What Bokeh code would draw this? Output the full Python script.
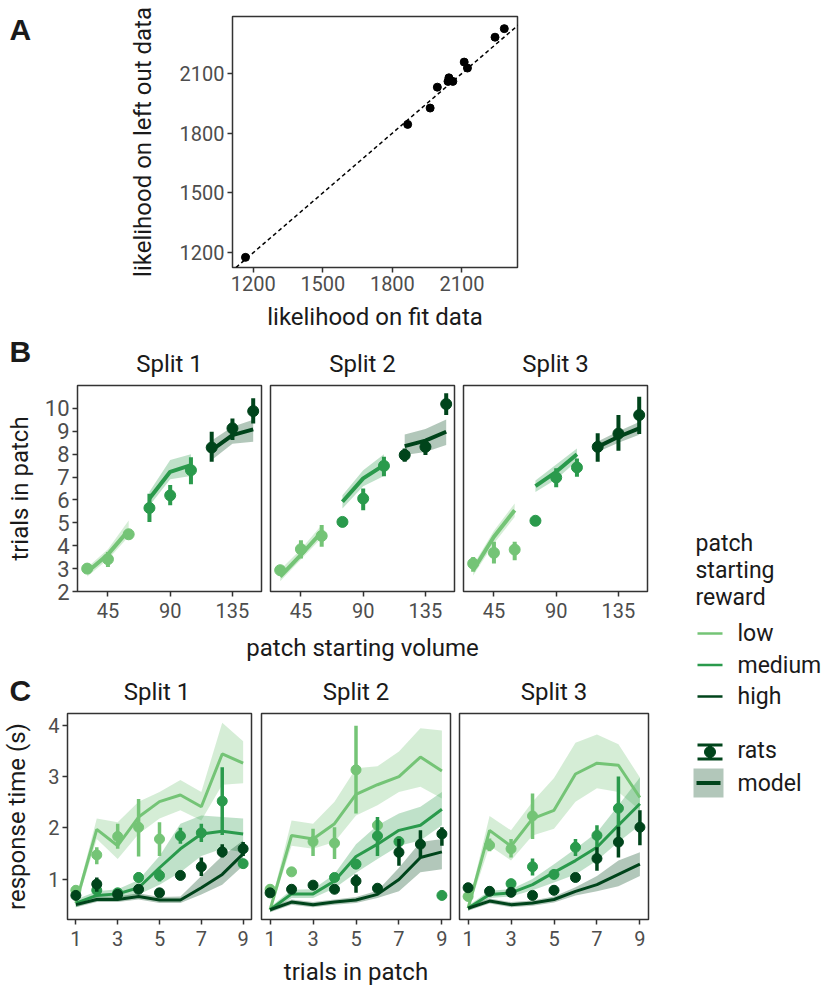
import numpy as np
from bokeh.plotting import figure
from bokeh.layouts import row, column
from bokeh.models import Range1d, FixedTicker, Slope, ColumnDataSource
from bokeh.embed import file_html
from bokeh.resources import INLINE
from bokeh.core.properties import value

FONT = "Roboto"
LETTER_FONT = "Liberation Sans"
TICK_COL = "#4d4d4d"
TEXT_COL = "#1a1a1a"
FRAME_COL = "#333333"

# ---------------- Panel A data ----------------
fit_likelihood = [1166, 1866, 1963, 1994, 2040, 2044, 2061, 2110, 2124, 2243, 2283]
left_out_likelihood = [1176, 1844, 1926, 2031, 2060, 2078, 2060, 2157, 2127, 2282, 2325]
a_ticks = [1200, 1500, 1800, 2100]

# ---------------- shared ----------------
reward_levels = ["low", "medium", "high"]
reward_colors = ["#74c476", "#2a9a4c", "#00441b"]
split_names = ["Split 1", "Split 2", "Split 3"]

# ---------------- Panel B data (volumes: low 30-60, medium 75-105, high 120-150) ----------------
b_volume = [30, 45, 60, 75, 90, 105, 120, 135, 150]
b_xticks = [45, 90, 135]
b_yticks = [2, 3, 4, 5, 6, 7, 8, 9, 10]

b1_rats_mean = [3.00, 3.41, 4.50, 5.65, 6.20, 7.30, 8.29, 9.13, 9.88]
b1_rats_lo = [2.92, 3.07, 4.35, 5.04, 5.77, 6.69, 7.67, 8.62, 9.34]
b1_rats_hi = [3.08, 3.73, 4.62, 6.27, 6.65, 7.86, 8.98, 9.56, 10.44]
b1_model = [2.85, 3.62, 4.68, 6.06, 7.23, 7.52, 8.18, 8.83, 9.08]
b1_model_lo = [2.65, 3.40, 4.40, 5.75, 6.90, 7.05, 7.75, 8.45, 8.54]
b1_model_hi = [3.05, 3.85, 5.10, 6.36, 7.74, 8.00, 8.60, 9.20, 9.50]

b2_rats_mean = [2.93, 3.85, 4.43, 5.04, 6.06, 7.49, 7.96, 8.32, 10.19]
b2_rats_lo = [2.85, 3.44, 3.95, 4.82, 5.55, 7.04, 7.67, 7.96, 9.71]
b2_rats_hi = [3.00, 4.24, 4.90, 5.26, 6.50, 7.89, 8.25, 8.60, 10.66]
b2_model = [2.65, 3.60, 4.60, 5.92, 6.94, 7.52, 8.35, 8.59, 8.98]
b2_model_lo = [2.45, 3.40, 4.35, 5.63, 6.60, 7.05, 7.96, 8.10, 8.40]
b2_model_hi = [2.95, 3.85, 4.90, 6.20, 7.30, 8.00, 8.86, 9.10, 9.52]

b3_rats_mean = [3.22, 3.69, 3.83, 5.09, 6.98, 7.42, 8.32, 8.90, 9.71]
b3_rats_lo = [2.86, 3.22, 3.37, 4.90, 6.55, 7.01, 7.67, 8.15, 8.88]
b3_rats_hi = [3.51, 4.17, 4.17, 5.28, 7.38, 7.81, 8.91, 9.71, 10.51]
b3_model = [2.93, 4.39, 5.55, 6.60, 7.23, 8.00, 8.32, 8.76, 9.13]
b3_model_lo = [2.70, 4.10, 5.25, 6.35, 6.90, 7.70, 8.10, 8.50, 8.85]
b3_model_hi = [3.15, 4.65, 5.85, 6.85, 7.55, 8.25, 8.55, 9.00, 9.40]

# ---------------- Panel C data ----------------
c_trials = [1, 2, 3, 4, 5, 6, 7, 8, 9]
c_xticks = [1, 3, 5, 7, 9]
c_yticks = [1, 2, 3, 4]

# split 1 model
c1_low_model = [0.53, 1.97, 1.65, 2.21, 2.51, 2.64, 2.41, 3.44, 3.26]
c1_low_model_lo = [0.45, 1.78, 1.39, 1.88, 2.18, 2.34, 2.14, 2.84, 2.87]
c1_low_model_hi = [0.60, 2.18, 2.11, 2.51, 2.70, 2.93, 2.70, 4.05, 3.69]
c1_med_model = [0.53, 0.68, 0.71, 0.83, 1.22, 1.59, 1.88, 1.93, 1.88]
c1_med_model_lo = [0.45, 0.60, 0.62, 0.70, 0.89, 1.13, 1.45, 1.59, 1.52]
c1_med_model_hi = [0.60, 0.76, 0.80, 0.98, 1.45, 2.08, 2.24, 2.21, 2.18]
c1_high_model = [0.50, 0.60, 0.60, 0.66, 0.59, 0.59, 0.83, 1.09, 1.49]
c1_high_model_lo = [0.45, 0.55, 0.55, 0.60, 0.53, 0.53, 0.70, 0.89, 1.26]
c1_high_model_hi = [0.55, 0.66, 0.66, 0.72, 0.65, 0.66, 1.06, 1.45, 1.75]
# split 1 rats
c1_low_mean = [0.78, 1.47, 1.83, 2.01, 1.78, None, None, None, None]
c1_low_lo = [0.72, 1.29, 1.59, 1.44, 1.45, None, None, None, None]
c1_low_hi = [0.84, 1.62, 2.08, 2.56, 2.11, None, None, None, None]
c1_med_mean = [None, 0.78, 0.73, 1.03, 1.07, 1.84, 1.90, 2.52, 1.30]
c1_med_lo = [None, 0.72, 0.68, 0.93, 0.95, 1.69, 1.72, 1.86, 1.24]
c1_med_hi = [None, 0.84, 0.78, 1.13, 1.19, 2.00, 2.08, 3.18, 1.36]
c1_high_mean = [0.68, 0.90, 0.70, 0.80, 0.73, 1.07, 1.24, 1.53, 1.59]
c1_high_lo = [0.62, 0.75, 0.64, 0.72, 0.66, 0.98, 1.06, 1.42, 1.45]
c1_high_hi = [0.74, 1.03, 0.76, 0.88, 0.80, 1.16, 1.42, 1.68, 1.72]

# split 2 model
c2_low_model = [0.40, 1.85, 1.78, 2.08, 2.65, 2.84, 3.00, 3.38, 3.11]
c2_low_model_lo = [0.35, 1.65, 1.59, 1.72, 2.24, 2.44, 2.70, 2.80, 2.57]
c2_low_model_hi = [0.45, 2.14, 2.08, 2.51, 3.16, 3.20, 3.49, 3.94, 3.90]
c2_med_model = [0.40, 0.71, 0.71, 0.96, 1.44, 1.68, 1.95, 2.05, 2.36]
c2_med_model_lo = [0.35, 0.63, 0.63, 0.82, 1.12, 1.39, 1.65, 1.75, 2.05]
c2_med_model_hi = [0.45, 0.79, 0.80, 1.10, 1.68, 2.05, 2.28, 2.41, 2.70]
c2_high_model = [0.40, 0.55, 0.50, 0.55, 0.59, 0.70, 0.99, 1.42, 1.53]
c2_high_model_lo = [0.35, 0.50, 0.45, 0.50, 0.53, 0.63, 0.76, 1.13, 1.19]
c2_high_model_hi = [0.45, 0.60, 0.55, 0.60, 0.65, 0.77, 1.22, 1.72, 1.78]
# split 2 rats
c2_low_mean = [0.80, 1.14, 1.73, 1.70, 3.13, 2.05, None, None, None]
c2_low_lo = [0.74, 1.08, 1.45, 1.39, 2.28, 1.95, None, None, None]
c2_low_hi = [0.86, 1.20, 1.98, 2.01, 3.99, 2.15, None, None, None]
c2_med_mean = [None, None, None, 1.03, 1.29, 1.84, 1.73, None, 0.68]
c2_med_lo = [None, None, None, 0.96, 1.20, 1.45, 1.65, None, 0.62]
c2_med_hi = [None, None, None, 1.10, 1.38, 2.21, 1.80, None, 0.74]
c2_high_mean = [0.73, 0.80, 0.88, 0.80, 0.96, 0.82, 1.52, 1.68, 1.88]
c2_high_lo = [0.66, 0.74, 0.82, 0.72, 0.73, 0.76, 1.26, 1.42, 1.65]
c2_high_hi = [0.80, 0.86, 0.94, 0.88, 1.09, 0.88, 1.78, 1.95, 2.01]

# split 3 model
c3_low_model = [0.43, 1.95, 1.64, 2.18, 2.34, 3.05, 3.26, 3.22, 2.59]
c3_low_model_lo = [0.38, 1.65, 1.36, 1.85, 1.98, 2.51, 2.77, 2.70, 2.34]
c3_low_model_hi = [0.48, 2.23, 1.95, 2.51, 2.97, 3.66, 3.82, 3.63, 2.98]
c3_med_model = [0.43, 0.70, 0.73, 0.89, 1.13, 1.36, 1.62, 2.05, 2.47]
c3_med_model_lo = [0.38, 0.63, 0.66, 0.78, 0.93, 1.09, 1.36, 1.72, 2.05]
c3_med_model_hi = [0.48, 0.77, 0.80, 1.00, 1.29, 1.59, 1.91, 2.44, 2.98]
c3_high_model = [0.43, 0.57, 0.50, 0.53, 0.60, 0.76, 0.89, 1.09, 1.29]
c3_high_model_lo = [0.38, 0.52, 0.45, 0.48, 0.54, 0.68, 0.76, 0.86, 1.06]
c3_high_model_hi = [0.48, 0.62, 0.55, 0.58, 0.66, 0.84, 1.06, 1.36, 1.52]
# split 3 rats
c3_low_mean = [0.66, 1.66, 1.59, 2.23, None, None, None, None, None]
c3_low_lo = [0.60, 1.54, 1.42, 1.78, None, None, None, None, None]
c3_low_hi = [0.72, 1.79, 1.78, 2.67, None, None, None, None, None]
c3_med_mean = [None, None, 0.91, 1.24, 1.09, 1.62, 1.85, 2.38, None]
c3_med_lo = [None, None, 0.84, 1.07, 1.02, 1.45, 1.62, 1.72, None]
c3_med_hi = [None, None, 0.98, 1.40, 1.16, 1.78, 2.05, 3.00, None]
c3_high_mean = [0.83, 0.76, 0.74, 0.68, 0.78, 1.03, 1.40, 1.72, 2.01]
c3_high_lo = [0.77, 0.70, 0.68, 0.62, 0.72, 0.96, 1.16, 1.42, 1.66]
c3_high_hi = [0.89, 0.82, 0.80, 0.74, 0.84, 1.10, 1.62, 2.02, 2.34]


def arr(v):
    return np.array([np.nan if a is None else a for a in v], dtype=float)


def style(p, xfs="20px", yfs="20px"):
    p.outline_line_color = FRAME_COL
    p.outline_line_width = 1.5
    p.xgrid.visible = False
    p.ygrid.visible = False
    p.background_fill_color = "white"
    p.border_fill_color = "white"
    for ax, fs in ((p.xaxis[0], xfs), (p.yaxis[0], yfs)):
        ax.axis_line_color = None
        ax.major_tick_line_color = FRAME_COL
        ax.major_tick_line_width = 1.5
        ax.major_tick_out = 5
        ax.major_tick_in = 0
        ax.minor_tick_line_color = None
        ax.major_label_text_font = FONT
        ax.major_label_text_color = TICK_COL
        ax.major_label_text_font_size = fs
        ax.major_label_standoff = 3
        ax.axis_label_text_font = FONT
        ax.axis_label_text_font_style = "normal"
        ax.axis_label_text_color = TEXT_COL
        ax.axis_label_text_font_size = "24px"


def strip(w, h, x0, y0):
    """A blank panel whose data coordinates equal page pixels, for free-standing texts."""
    s = figure(width=w, height=h, x_range=Range1d(x0, x0 + w), y_range=Range1d(y0 + h, y0),
               min_border_left=0, min_border_right=0, min_border_top=0, min_border_bottom=0,
               x_axis_location=None, y_axis_location=None, output_backend="svg", toolbar_location=None)
    s.grid.visible = False
    s.outline_line_color = None
    s.background_fill_color = "white"
    s.border_fill_color = "white"
    return s


def put_text(s, xs, ys, texts, size="24px", font=FONT, style_="normal", align="left", color=TEXT_COL):
    s.text(x=xs, y=ys, text=texts, text_font=value(font), text_font_size=value(size),
           text_font_style=style_, text_color=color, text_align=align, text_baseline="middle")


# ---------------- Panel A ----------------
strip_a = strip(68, 336, 0, 0)
put_text(strip_a, [9], [17], ["A"], size="30px", font=LETTER_FONT, style_="bold")

pa = figure(width=758, height=336, x_range=Range1d(1110, 2340), y_range=Range1d(1125, 2386),
            min_border_left=164, min_border_right=309, min_border_top=16, min_border_bottom=69,
            output_backend="svg", toolbar_location=None)
style(pa)
pa.xaxis.ticker = FixedTicker(ticks=a_ticks)
pa.yaxis.ticker = FixedTicker(ticks=a_ticks)
pa.xaxis.axis_label = "likelihood on fit data"
pa.yaxis.axis_label = "likelihood on left out data"
pa.xaxis.axis_label_standoff = 9
pa.yaxis.axis_label_standoff = 20
pa.add_layout(Slope(gradient=1, y_intercept=0, line_color="black", line_dash="4 3", line_width=1.5))
pa.scatter(fit_likelihood, left_out_likelihood, size=8, color="black")

# ---------------- Panel B ----------------
b_sets = [
    (b1_rats_mean, b1_rats_lo, b1_rats_hi, b1_model, b1_model_lo, b1_model_hi),
    (b2_rats_mean, b2_rats_lo, b2_rats_hi, b2_model, b2_model_lo, b2_model_hi),
    (b3_rats_mean, b3_rats_lo, b3_rats_hi, b3_model, b3_model_lo, b3_model_hi),
]
# (figure width, left border, right border); frames 184 wide
b_geom = [(265, 77, 4), (193, 5, 4), (193, 5, 4)]
B_FRAME = 184
b_figs = []
for i, (rm, rl, rh, mm, ml, mh) in enumerate(b_sets):
    w, left, right = b_geom[i]
    p = figure(width=w, height=248, x_range=Range1d(23, 156), y_range=Range1d(2, 11),
               min_border_left=left, min_border_right=right, min_border_top=5, min_border_bottom=37,
               output_backend="svg", toolbar_location=None)
    style(p, xfs="20px", yfs="22px")
    p.xaxis.major_label_standoff = 6
    p.xaxis.ticker = FixedTicker(ticks=b_xticks)
    p.yaxis.ticker = FixedTicker(ticks=b_yticks)
    if i == 0:
        p.yaxis.axis_label = "trials in patch"
        p.yaxis.axis_label_standoff = 8
    else:
        p.yaxis.visible = False
    for g in range(3):
        sl = slice(3 * g, 3 * g + 3)
        src = ColumnDataSource(dict(x=b_volume[sl], m=mm[sl], lo=ml[sl], hi=mh[sl]))
        p.varea(x="x", y1="lo", y2="hi", source=src, fill_color=reward_colors[g], fill_alpha=0.3)
    for g in range(3):
        sl = slice(3 * g, 3 * g + 3)
        p.line(b_volume[sl], mm[sl], line_color=reward_colors[g], line_width=4)
    for g in range(3):
        sl = slice(3 * g, 3 * g + 3)
        src = ColumnDataSource(dict(x=b_volume[sl], m=rm[sl], lo=rl[sl], hi=rh[sl]))
        p.segment(x0="x", y0="lo", x1="x", y1="hi", source=src, line_color=reward_colors[g], line_width=4)
        p.scatter(x="x", y="m", source=src, size=11, color=reward_colors[g])
    b_figs.append(p)

# frame centres of the B facets, in page pixels
b_centres = []
xpos = 0
for w, left, right in b_geom:
    b_centres.append(xpos + left + B_FRAME / 2)
    xpos += w

strip_b_top = strip(651, 44, 0, 336)
put_text(strip_b_top, [9], [351], ["B"], size="30px", font=LETTER_FONT, style_="bold")
put_text(strip_b_top, b_centres, [363] * 3, split_names, align="center")
strip_b_bot = strip(651, 42, 0, 628)
put_text(strip_b_bot, [b_centres[1]], [647], ["patch starting volume"], align="center")

# ---------------- Panel C ----------------
c_sets = [
    ([c1_low_model, c1_med_model, c1_high_model], [c1_low_model_lo, c1_med_model_lo, c1_high_model_lo],
     [c1_low_model_hi, c1_med_model_hi, c1_high_model_hi], [c1_low_mean, c1_med_mean, c1_high_mean],
     [c1_low_lo, c1_med_lo, c1_high_lo], [c1_low_hi, c1_med_hi, c1_high_hi]),
    ([c2_low_model, c2_med_model, c2_high_model], [c2_low_model_lo, c2_med_model_lo, c2_high_model_lo],
     [c2_low_model_hi, c2_med_model_hi, c2_high_model_hi], [c2_low_mean, c2_med_mean, c2_high_mean],
     [c2_low_lo, c2_med_lo, c2_high_lo], [c2_low_hi, c2_med_hi, c2_high_hi]),
    ([c3_low_model, c3_med_model, c3_high_model], [c3_low_model_lo, c3_med_model_lo, c3_high_model_lo],
     [c3_low_model_hi, c3_med_model_hi, c3_high_model_hi], [c3_low_mean, c3_med_mean, c3_high_mean],
     [c3_low_lo, c3_med_lo, c3_high_lo], [c3_low_hi, c3_med_hi, c3_high_hi]),
]
c_geom = [(255, 62, 4), (199, 6, 4), (197, 5, 3)]
C_FRAME = 189
c_figs = []
for i, (mods, mlos, mhis, rms, rlos, rhis) in enumerate(c_sets):
    w, left, right = c_geom[i]
    p = figure(width=w, height=247, x_range=Range1d(0.6, 9.4), y_range=Range1d(0.21, 4.23),
               min_border_left=left, min_border_right=right, min_border_top=6, min_border_bottom=35,
               output_backend="svg", toolbar_location=None)
    style(p)
    p.xaxis.major_label_standoff = 6
    p.xaxis.ticker = FixedTicker(ticks=c_xticks)
    p.yaxis.ticker = FixedTicker(ticks=c_yticks)
    if i == 0:
        p.yaxis.axis_label = "response time (s)"
        p.yaxis.axis_label_standoff = 14
    else:
        p.yaxis.visible = False
    for g in range(3):
        p.varea(x=c_trials, y1=mlos[g], y2=mhis[g], fill_color=reward_colors[g], fill_alpha=0.3)
    for g in range(3):
        p.line(c_trials, mods[g], line_color=reward_colors[g], line_width=3)
    for g in range(3):
        src = ColumnDataSource(dict(x=c_trials, m=arr(rms[g]), lo=arr(rlos[g]), hi=arr(rhis[g])))
        p.segment(x0="x", y0="lo", x1="x", y1="hi", source=src, line_color=reward_colors[g], line_width=3.5)
        p.scatter(x="x", y="m", source=src, size=10, color=reward_colors[g])
    c_figs.append(p)

c_centres = []
xpos = 0
for w, left, right in c_geom:
    c_centres.append(xpos + left + C_FRAME / 2)
    xpos += w

strip_c_top = strip(651, 37, 0, 670)
put_text(strip_c_top, [9], [690], ["C"], size="30px", font=LETTER_FONT, style_="bold")
put_text(strip_c_top, c_centres, [691] * 3, split_names, align="center")
strip_c_bot = strip(651, 32, 0, 954)
put_text(strip_c_bot, [c_centres[1]], [971], ["trials in patch"], align="center")

# ---------------- Legend (own panel, page-pixel coordinates) ----------------
pl = strip(175, 650, 651, 336)
LEG_FS = "23px"
put_text(pl, [695] * 3, [543 + 27 * k for k in range(3)], ["patch", "starting", "reward"], size=LEG_FS)
item_y = [633 + 31.5 * k for k in range(3)]
pl.segment(x0=[697] * 3, y0=item_y, x1=[722] * 3, y1=item_y, line_color=reward_colors, line_width=2.5)
put_text(pl, [737] * 3, item_y, reward_levels, size=LEG_FS)
# rats key: point-range symbol
pl.segment(x0=[709.5, 697, 697], y0=[744, 744.5, 758.5], x1=[709.5, 722, 722], y1=[759, 744.5, 758.5],
           line_color=reward_colors[2], line_width=[4, 3, 3])
pl.scatter(x=[709.5], y=[751.5], size=11, color=reward_colors[2])
# model key: ribbon + line
pl.quad(left=[693], right=[723], top=[768], bottom=[797], fill_color=reward_colors[2], fill_alpha=0.3,
        line_color=None)
pl.segment(x0=[696], y0=[782.5], x1=[720], y1=[782.5], line_color=reward_colors[2], line_width=4)
put_text(pl, [737, 737], [750, 783], ["rats", "model"], size=LEG_FS)

left_block = column(strip_b_top, row(*b_figs), strip_b_bot, strip_c_top, row(*c_figs), strip_c_bot)
layout = column(row(strip_a, pa), row(left_block, pl))
open("out.html", "w").write(file_html(layout, INLINE))
